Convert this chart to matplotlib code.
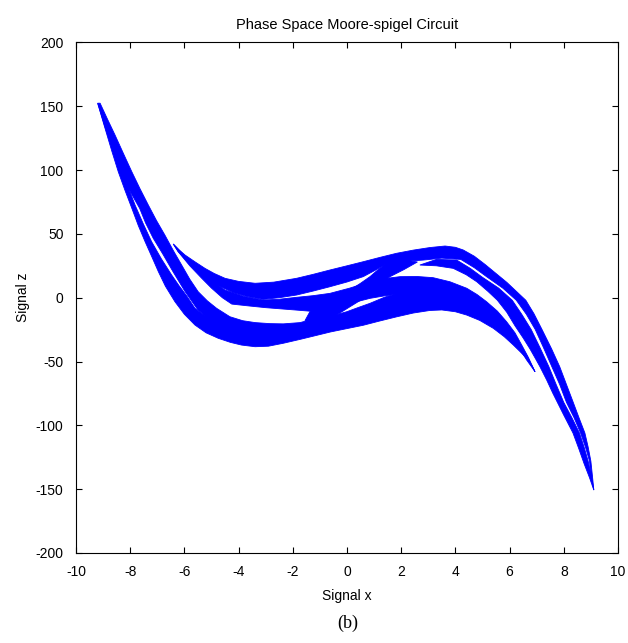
import matplotlib
matplotlib.use("Agg")
import matplotlib.pyplot as plt

plt.rcParams['font.family'] = ['Liberation Sans', 'DejaVu Sans']
plt.rcParams['axes.unicode_minus'] = False

# outlines of the traced trajectory bands (x, z)
# left arm, outer strand -> bottom band -> lower arc
arm_outer_x = [-9.20, -8.93, -8.68, -8.44, -8.19, -7.94, -7.70, -7.45, -7.20, -6.96, -6.70, -6.35,
               -6.00, -5.61, -5.20, -4.75, -4.30, -3.89, -3.39, -2.90, -2.35, -1.70, -1.12,
               -0.60, 0.00, 0.60, 1.20, 1.83, 2.45, 3.06, 3.50, 4.00, 4.42, 4.90, 5.40, 5.80,
               6.14, 6.40, 6.63, 6.80, 6.94,
               6.60, 6.30, 5.90, 5.40, 4.90, 4.42, 3.80, 3.18, 2.50, 1.96, 1.40, 0.85, 0.40,
               -0.01, -0.60, -1.12, -1.70, -2.35, -2.90, -3.39, -3.90, -4.32, -4.70, -5.06,
               -5.35, -5.61, -5.90, -6.20, -6.47, -6.85, -7.21, -7.52, -7.82, -8.10, -8.38,
               -8.66, -8.93]
arm_outer_z = [152.4, 132.8, 115.0, 98.7, 84.0, 70.1, 56.5, 43.9, 32.0, 20.4, 9.0, -3.1,
               -13.0, -21.4, -27.5, -31.8, -35.0, -37.1, -38.4, -38.0, -35.7, -32.5, -29.5,
               -26.8, -24.2, -21.6, -18.3, -15.0, -12.0, -10.0, -9.6, -11.0, -13.6, -17.8,
               -24.0, -30.5, -37.1, -42.5, -47.5, -52.5, -58.0,
               -44.0, -35.0, -23.0, -12.0, -4.0, 0.5, 3.5, 5.0, 5.0, 4.0, 0.5, -4.4, -7.8,
               -11.0, -14.5, -17.5, -20.5, -22.7, -24.5, -25.3, -24.0, -21.4, -18.5, -15.9,
               -12.5, -8.3, 1.0, 9.5, 17.8, 30.5, 43.9, 58.0, 72.6, 88.0, 104.0,
               120.0, 135.3]

# left arm, inner strand
arm_inner_x = [-9.20, -9.11, -8.84, -8.56, -8.25, -7.94, -7.64, -7.33, -7.03, -6.72, -6.41,
               -6.10, -5.80, -5.49, -5.15, -4.81, -4.32, -3.85, -3.39, -2.85, -2.35, -1.73,
               -1.30, -1.50, -2.35, -3.39, -4.32, -4.98, -5.25, -5.50, -5.98, -6.42, -6.79,
               -7.15, -7.43, -7.65, -8.05, -8.45, -8.70, -8.95]
arm_inner_z = [152.4, 152.4, 140.0, 127.5, 113.0, 98.7, 85.5, 72.6, 60.5, 49.1, 37.0,
               25.6, 14.5, 4.7, -2.5, -8.3, -14.9, -18.0, -19.5, -20.3, -20.5, -19.5,
               -17.0, -22.0, -24.5, -26.1, -23.0, -17.5, -14.0, -9.6, 5.0, 20.4, 34.0,
               46.6, 58.5, 70.0, 85.0, 104.0, 120.0, 135.3]

# middle band and middle arc
mid_x = [-6.41, -5.85, -5.30, -4.90, -4.50, -3.80, -3.09, -2.50, -1.86, -1.25, -0.63, 0.10,
         0.85, 1.40, 1.96, 2.60, 3.18, 3.80, 4.42, 4.80, 5.15, 5.55, 5.89, 6.20, 6.45, 6.70,
         6.94,
         6.63, 6.40, 6.14, 5.80, 5.40, 4.90, 4.42, 3.80, 3.18, 1.96, 1.40, 0.85, 0.30, -0.26,
         -0.70, -1.12, -1.80, -2.40, -3.00, -3.60, -4.25, -4.60, -5.00, -5.36, -5.80, -6.23]
mid_z = [42.1, 30.0, 20.0, 12.0, 6.0, 1.0, -1.8, -1.2, 0.3, 1.6, 3.4, 7.5,
         12.5, 15.0, 16.5, 16.6, 15.7, 12.5, 7.4, 2.5, -3.1, -10.5, -18.8, -27.5, -37.1, -47.0,
         -58.0,
         -48.8, -41.0, -33.2, -23.0, -13.6, -6.0, -1.5, 1.5, 3.0, 3.0, 1.5, -0.5, -3.5, -6.0,
         -9.0, -11.0, -9.8, -8.8, -7.8, -6.5, -5.0, 0.0, 7.5, 15.2, 25.0, 36.1]

# crossing band
cross_x = [-1.55, -1.37, -1.00, -0.63, -0.25, 0.11, 0.50, 0.85, 1.15, 1.46, 2.00, 2.60,
           2.10, 1.59, 1.20, 0.85, 0.50, 0.11, -0.30, -0.75, -1.10]
cross_z = [-18.0, -11.0, -7.0, -3.1, 1.5, 6.0, 11.3, 16.5, 22.0, 27.0, 30.0, 28.0,
           22.0, 16.5, 10.0, 3.4, -2.0, -7.1, -12.5, -17.5, -20.0]

# upper band (smile) -> outer right descent
upper_x = [-6.41, -6.20, -5.98, -5.60, -5.24, -4.90, -4.50, -4.00, -3.39, -2.70, -1.86, -1.25,
           -0.63, 0.00, 0.60, 1.20, 1.83, 2.45, 3.06, 3.62, 4.00, 4.29, 4.70, 5.10, 5.50,
           5.90, 6.25, 6.60, 6.90, 7.20, 7.55, 7.85, 8.10, 8.35, 8.58, 8.78, 8.90, 9.00,
           9.06, 9.11,
           9.00, 8.95, 8.80, 8.62, 8.38, 8.10, 7.85, 7.56, 7.25, 6.95, 6.62, 6.25, 5.75,
           5.15, 4.70, 4.20, 3.50, 2.82, 2.10, 1.46, 1.00, 0.60, 0.00, -0.63, -1.25, -1.86,
           -2.50, -3.09, -3.70, -4.20, -4.60, -5.00, -5.30, -5.60, -5.90, -6.23]
upper_z = [42.1, 37.5, 33.5, 28.0, 23.0, 19.0, 15.2, 12.8, 11.3, 12.2, 15.2, 18.3,
           21.7, 25.0, 28.2, 31.5, 34.8, 37.3, 39.3, 40.5, 39.5, 37.4, 32.5, 26.0, 19.0,
           12.0, 5.0, -2.0, -12.5, -25.0, -40.0, -54.0, -68.0, -82.0, -95.0, -106.0, -117.0,
           -128.0, -140.0, -150.7,
           -140.0, -128.0, -117.0, -106.0, -94.0, -82.0, -68.0, -54.0, -39.0, -25.0, -13.0,
           -2.0, 7.5, 16.5, 23.5, 30.0, 31.0, 29.5, 28.5, 26.5, 21.0, 16.5, 12.3, 8.6, 5.2,
           2.1, 0.0, -1.3, 1.0, 4.0, 8.0, 12.0, 17.0, 22.0, 28.5, 36.1]

# inner right descent
inner_x = [2.69, 3.30, 3.92, 4.40, 4.79, 5.20, 5.55, 5.90, 6.20, 6.50, 6.75, 6.95, 7.12,
           7.37, 7.60, 7.80, 8.00, 8.17, 8.34, 8.55, 8.75, 8.95, 9.11,
           9.02, 8.90, 8.75, 8.58, 8.30, 8.00, 7.72, 7.45, 7.12, 6.80, 6.45, 6.10, 5.60,
           5.00, 4.55, 4.05, 3.30]
inner_z = [25.6, 25.0, 23.0, 18.0, 12.5, 5.0, -2.0, -11.5, -22.0, -31.5, -40.0, -47.5, -54.0,
           -64.5, -75.0, -83.5, -92.0, -99.0, -106.0, -118.0, -130.0, -141.0, -150.7,
           -140.0, -128.0, -117.0, -106.0, -94.0, -82.0, -68.0, -54.0, -39.0, -25.0, -13.0,
           -2.0, 7.5, 16.0, 23.0, 29.5, 30.0]

x_ticks = [-10, -8, -6, -4, -2, 0, 2, 4, 6, 8, 10]
z_ticks = [-200, -150, -100, -50, 0, 50, 100, 150, 200]

fig = plt.figure(figsize=(6.28, 6.43), dpi=100)
ax = fig.add_axes([0.121, 0.140, 0.863, 0.794])

bands = [(arm_outer_x, arm_outer_z), (arm_inner_x, arm_inner_z), (mid_x, mid_z),
         (cross_x, cross_z), (upper_x, upper_z), (inner_x, inner_z)]
for bx, bz in bands:
    ax.fill(bx, bz, color='#0000ff', lw=0.6, ec='#0000ff')

ax.set_xlim(-10, 10)
ax.set_ylim(-200, 200)
ax.set_xticks(x_ticks)
ax.set_yticks(z_ticks)
ax.tick_params(direction='in', length=4, width=0.8, top=True, right=True, labelsize=10)
ax.tick_params(axis='x', pad=9)
ax.tick_params(axis='y', pad=9)
for s in ax.spines.values():
    s.set_linewidth(0.8)

ax.set_title('Phase Space Moore-spigel Circuit', fontsize=10.5, pad=10)
ax.set_xlabel('Signal x', fontsize=10, labelpad=7)
ax.set_ylabel('Signal z', fontsize=10, labelpad=4)

fig.text(0.553, 1 - 623 / 643, '(b)', ha='center', va='center',
         family='Liberation Serif', fontsize=13)

fig.savefig('out.png', dpi=100)
